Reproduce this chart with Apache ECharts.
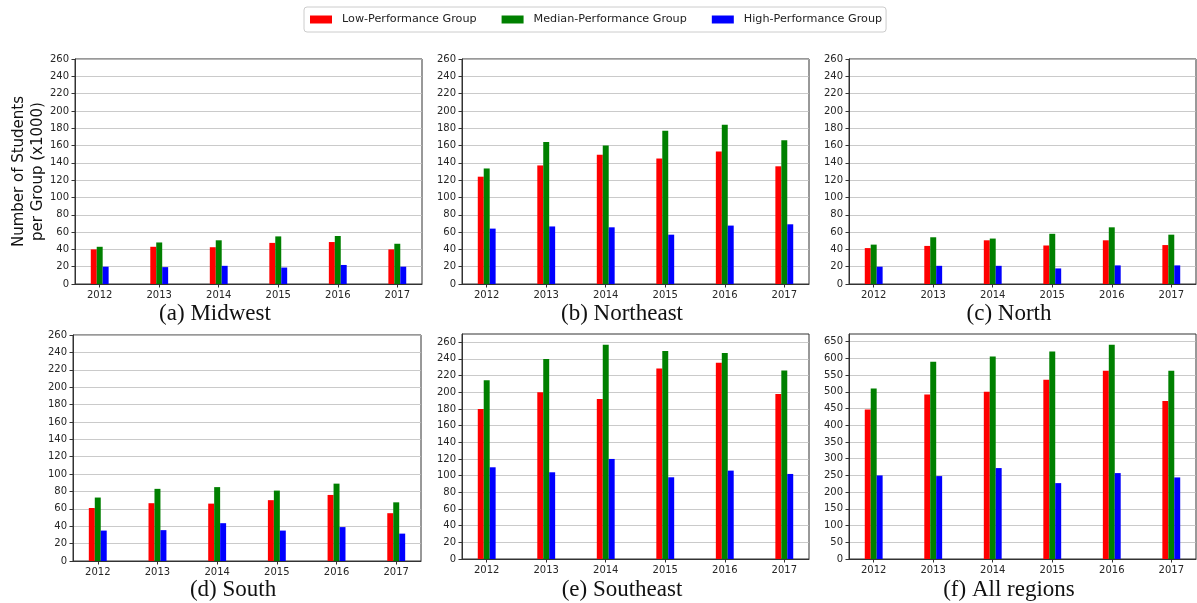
<!DOCTYPE html>
<html>
<head>
<meta charset="utf-8">
<script src="https://cdn.jsdelivr.net/npm/echarts@6/dist/echarts.min.js"></script>
<style>
  html, body { margin: 0; padding: 0; background: #ffffff; }
  #chart { width: 1197px; height: 603px; }
</style>
</head>
<body>
<div id="chart"></div>
<script>
// Students per performance group (thousands), by year and region
const years = [2012, 2013, 2014, 2015, 2016, 2017];

const midwestLow    = [40, 43, 42.5, 47.5, 48.5, 40];
const midwestMedian = [43, 48, 50.5, 55, 55.5, 46.5];
const midwestHigh   = [20, 19.5, 21, 19, 22, 20];

const northeastLow    = [124, 137, 149.5, 145, 153, 136];
const northeastMedian = [133.5, 164, 160, 177, 184, 166];
const northeastHigh   = [64, 66.5, 65.5, 57, 67.5, 69];

const northLow    = [41.5, 44, 50.5, 44.5, 50.5, 45];
const northMedian = [45.5, 54, 52.5, 58, 65.5, 57];
const northHigh   = [20, 21, 21, 18, 21.5, 21.5];

const southLow    = [61, 66.5, 66, 70, 76, 55];
const southMedian = [73, 83, 85, 81, 89, 67.5];
const southHigh   = [35, 35.5, 43.5, 35, 39, 31.5];

const southeastLow    = [180, 200, 192, 228.5, 235.5, 198];
const southeastMedian = [214.5, 240, 257, 249.5, 247, 226];
const southeastHigh   = [110, 104, 120, 98, 106, 102];

const allLow    = [447, 492, 500, 536, 563, 473];
const allMedian = [510, 590, 606, 621, 641, 563];
const allHigh   = [250, 248, 272, 227, 257, 244];

const groupNames  = ['Low-Performance Group', 'Median-Performance Group', 'High-Performance Group'];
const groupColors = ['#ff0000', '#008000', '#0000ff'];

const ticks260 = [0, 20, 40, 60, 80, 100, 120, 140, 160, 180, 200, 220, 240, 260];
const ticks650 = [0, 50, 100, 150, 200, 250, 300, 350, 400, 450, 500, 550, 600, 650];

const panels = [
  { caption: '(a) Midwest',     series: [midwestLow, midwestMedian, midwestHigh],       ticks: ticks260, step: 20, max: 260,
    box: { left: 75,  top: 59,  width: 347, height: 225 }, cap: [215, 314] },
  { caption: '(b) Northeast',   series: [northeastLow, northeastMedian, northeastHigh], ticks: ticks260, step: 20, max: 260,
    box: { left: 462, top: 59,  width: 347, height: 225 }, cap: [622, 314] },
  { caption: '(c) North',       series: [northLow, northMedian, northHigh],             ticks: ticks260, step: 20, max: 260,
    box: { left: 849, top: 59,  width: 347, height: 225 }, cap: [1009, 314] },
  { caption: '(d) South',       series: [southLow, southMedian, southHigh],             ticks: ticks260, step: 20, max: 260,
    box: { left: 73,  top: 335, width: 348, height: 226 }, cap: [233, 590] },
  { caption: '(e) Southeast',   series: [southeastLow, southeastMedian, southeastHigh], ticks: ticks260, step: 20, max: null,
    box: { left: 462, top: 334, width: 347, height: 225 }, cap: [622, 590] },
  { caption: '(f) All regions', series: [allLow, allMedian, allHigh],                   ticks: ticks650, step: 50, max: null,
    box: { left: 849, top: 334, width: 347, height: 225 }, cap: [1009, 590] }
];

// bars are 0.1 year wide, three per year; keep a 5% margin around them
const barW = 0.1;
const xPad = (years[years.length - 1] - years[0] + 3 * barW) * 0.05;
const xMin = years[0] - 1.5 * barW - xPad;
const xMax = years[years.length - 1] + 1.5 * barW + xPad;

const tickFont = { fontFamily: 'DejaVu Sans', fontSize: 10, color: '#262626' };
const frameColor = '#333333';

const grids = [], xAxes = [], yAxes = [], series = [], graphics = [];

panels.forEach(function (p, i) {
  let yMax = p.max;
  if (yMax === null) {
    yMax = Math.max.apply(null, p.series.map(function (s) { return Math.max.apply(null, s); })) * 1.05;
  }
  grids.push(Object.assign({
    show: true, borderColor: frameColor, borderWidth: 1, backgroundColor: '#ffffff', containLabel: false
  }, p.box));

  xAxes.push({
    type: 'value', gridIndex: i, min: xMin, max: xMax,
    axisLine: { show: true, onZero: false, lineStyle: { color: frameColor, width: 1 } },
    axisTick: { show: true, length: 3.5, lineStyle: { color: frameColor }, customValues: years },
    axisLabel: Object.assign({ margin: 6, customValues: years, formatter: function (v) { return String(Math.round(v)); } }, tickFont),
    splitLine: { show: false }
  });

  yAxes.push({
    type: 'value', gridIndex: i, min: 0, max: yMax, interval: p.step,
    axisLine: { show: true, lineStyle: { color: frameColor, width: 1 } },
    axisTick: { show: true, length: 3.5, lineStyle: { color: frameColor }, customValues: p.ticks },
    axisLabel: Object.assign({ margin: 6, customValues: p.ticks, showMaxLabel: true,
      formatter: function (v) { return String(Math.round(v)); } }, tickFont),
    splitLine: { show: true, lineStyle: { color: '#bdbdbd', width: 0.8 } }
  });

  p.series.forEach(function (vals, k) {
    series.push({
      type: 'bar', name: groupNames[k], xAxisIndex: i, yAxisIndex: i,
      barWidth: '10%', barGap: '0%',
      itemStyle: { color: groupColors[k] },
      data: years.map(function (y, j) { return [y, vals[j]]; })
    });
  });

  graphics.push({
    type: 'text', x: p.cap[0], y: p.cap[1],
    style: { text: p.caption, fontFamily: 'Liberation Serif', fontSize: 23, fill: '#111111',
      textAlign: 'center', textVerticalAlign: 'middle' }
  });
});

// shared y-axis title at the left of the top row
graphics.push({
  type: 'text', x: 29, y: 171.5, rotation: Math.PI / 2,
  style: { text: 'Number of Students\nper Group (x1000)', fontFamily: 'DejaVu Sans', fontSize: 15,
    lineHeight: 19, fill: '#111111', textAlign: 'center', textVerticalAlign: 'middle' }
});

const chart = echarts.init(document.getElementById('chart'), null, { renderer: 'canvas' });
chart.setOption({
  animation: false,
  backgroundColor: '#ffffff',
  legend: {
    data: groupNames, left: 304, top: 7,
    orient: 'horizontal', icon: 'rect', itemWidth: 22, itemHeight: 8, itemGap: 25,
    padding: [7, 4, 7, 6], borderColor: '#cccccc', borderWidth: 1, borderRadius: 3,
    textStyle: { fontFamily: 'DejaVu Sans', fontSize: 11.2, color: '#222222', padding: [0, 0, 0, 5] },
    selectedMode: false
  },
  grid: grids,
  xAxis: xAxes,
  yAxis: yAxes,
  series: series,
  graphic: graphics
});
</script>
</body>
</html>
